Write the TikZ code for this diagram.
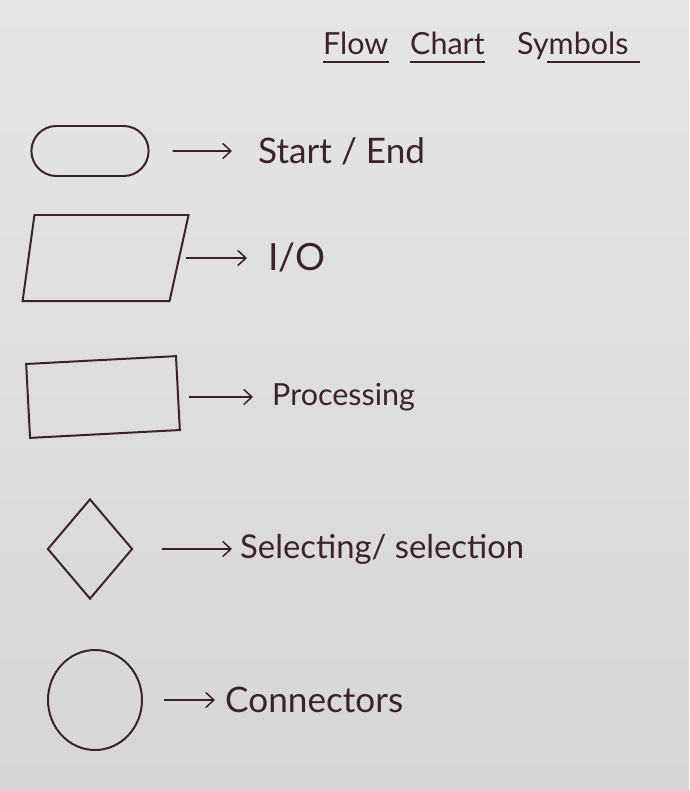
\documentclass[tikz,border=0pt]{standalone}
\usepackage{fontspec}
\setmainfont{Lato}
\usepackage{tikz}
\usetikzlibrary{shapes.geometric,shapes.misc,arrows.meta}
\definecolor{ink}{RGB}{58,36,38}
\definecolor{paperhi}{RGB}{229,229,231}
\definecolor{paperlo}{RGB}{214,214,217}
\tikzset{>={Straight Barb[length=7pt,width=13pt]}}
\tikzset{
  pen/.style={draw=ink, line width=1.7pt},
  lbl/.style={text=ink, inner sep=0pt, anchor=west},
  ptr/.style={->, draw=ink, line width=1.3pt},
  uline/.style={draw=ink, line width=1.2pt}
}

\begin{document}
\begin{tikzpicture}[x=0.03cm, y=-0.03cm]
  \newcommand{\hand}[1]{\fontsize{#1}{#1}\selectfont}
  \newcommand{\udrop}{-0.21cm}

  \shade[top color=paperhi, bottom color=paperlo] (0,0) rectangle (689,790);

  %% title
  \node[lbl, anchor=base west, font=\hand{26}] (flow) at (323,55) {Flow};
  \node[lbl, anchor=base west, font=\hand{26}] (chart) at (410,55) {Chart};
  \node[lbl, anchor=base west, font=\hand{26}] (symb) at (517,55) {Symbols};
  \draw[uline] ([yshift=\udrop]flow.base west) -- ([yshift=\udrop]flow.base east);
  \draw[uline] ([yshift=\udrop]chart.base west) -- ([yshift=\udrop]chart.base east);
  \draw[uline] ([yshift=\udrop, xshift=0.9cm]symb.base west) -- %%
  ([yshift=\udrop, xshift=0.35cm]symb.base east);

  %% start / end
  \node[pen, rounded rectangle, minimum width=3.75cm, minimum height=1.5cm] (term) at (90,151) {};
  \node[lbl, font=\hand{30}] (termlbl) at (258,151) {Start / End};
  \draw[ptr, shorten <=0.69cm, shorten >=0.78cm] (term) -- (termlbl);

  %% input / output
  \node[pen, trapezium, trapezium left angle=85, trapezium right angle=98, %%
    trapezium stretches=true, minimum width=4.98cm, minimum height=2.58cm] (io) at (102,258) {};
  \node[lbl, font=\hand{32}] (iolbl) at (268,258) {I/O};
  \draw[ptr, shorten <=0.18cm, shorten >=0.63cm] (io) -- (iolbl);

  %% processing
  \node[pen, rectangle, minimum width=4.5cm, minimum height=2.22cm, rotate=3] (proc) at (103,397) {};
  \node[lbl, font=\hand{26}] (proclbl) at (272,397) {Processing};
  \draw[ptr, shorten <=0.3cm, shorten >=0.57cm] (proc) -- (proclbl);

  %% decision
  \node[pen, diamond, inner sep=0pt, minimum width=2.55cm, minimum height=3cm] (sel) at (90,549) {};
  \node[lbl, font=\hand{28}] (sellbl) at (240,549) {Selecting/ selection};
  \draw[ptr, shorten <=0.84cm, shorten >=0.24cm] (sel) -- (sellbl);

  %% connector
  \node[pen, ellipse, minimum width=2.82cm, minimum height=3cm] (conn) at (95,700) {};
  \node[lbl, font=\hand{30}] (connlbl) at (225,700) {Connectors};
  \draw[ptr, shorten <=0.63cm, shorten >=0.3cm] (conn) -- (connlbl);
\end{tikzpicture}
\end{document}
